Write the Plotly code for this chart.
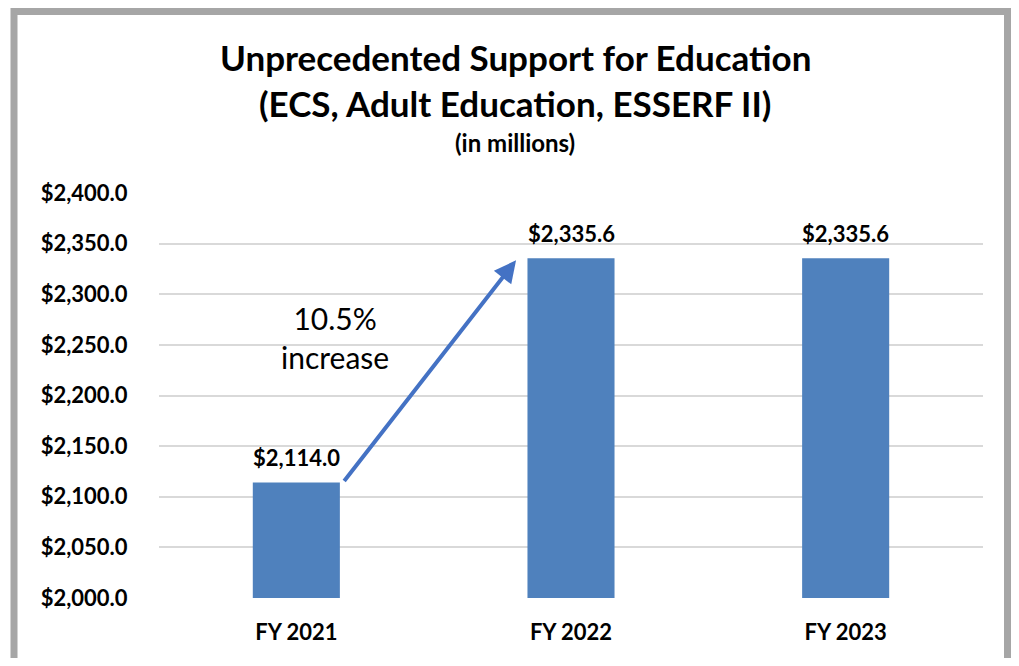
import plotly.graph_objects as go

categories = ['FY 2021', 'FY 2022', 'FY 2023']
values = [2114.0, 2335.6, 2335.6]
y_ticks = [2000, 2050, 2100, 2150, 2200, 2250, 2300, 2350, 2400]
y_tick_labels = [f"${v:,.1f}" for v in y_ticks]

bar_color = '#4F81BD'
arrow_color = '#4472C4'
grid_color = '#D9D9D9'
text_color = '#000000'
font_family = 'Lato, Carlito, Calibri, sans-serif'

# page body has an 8px margin, so the figure starts at (8, 8) in the window
OFF = 8
W, H = 1019 - 2 * OFF, 666 - 2 * OFF
# plot area in window pixels: left 159, right 983, top 193, bottom 598
L, R, T, B = 159 - OFF, 983 - OFF, 193 - OFF, 598 - OFF


def px_x(px):
    return (px - OFF - L) / (R - L)


def px_y(py):
    return (B - (py - OFF)) / (B - T)


fig = go.Figure()

fig.add_trace(
    go.Bar(
        x=categories,
        y=values,
        width=0.317,
        marker={'color': bar_color, 'line': {'width': 0}},
        showlegend=False,
        hoverinfo='x+y',
    )
)

# value labels above the bars
for cat, val in zip(categories, values):
    fig.add_annotation(
        x=cat, y=val,
        text=f"${val:,.1f}",
        showarrow=False,
        yshift=25,
        font={'size': 22, 'color': text_color, 'family': font_family, 'weight': 'bold'},
    )

# arrow from FY2021 bar top to FY2022 bar top
fig.add_annotation(
    x=0.80, y=values[1] - 2,
    ax=0.17, ay=values[0],
    xref='x', yref='y', axref='x', ayref='y',
    text='',
    showarrow=True,
    arrowhead=2,
    arrowsize=1.1,
    arrowwidth=4,
    arrowcolor=arrow_color,
)

pct = (values[1] / values[0] - 1) * 100
fig.add_annotation(
    x=px_x(335), y=px_y(337),
    xref='paper', yref='paper',
    xanchor='center', yanchor='middle',
    text=f"{pct:.1f}%<br>increase",
    showarrow=False,
    align='center',
    font={'size': 30, 'color': text_color, 'family': font_family},
)

# titles
title_lines = [
    ('Unprecedented Support for Education', 57, 35),
    ('(ECS, Adult Education, ESSERF II)', 103, 35),
    ('(in millions)', 143, 24),
]
for txt, ypx, size in title_lines:
    fig.add_annotation(
        x=px_x(515), y=px_y(ypx),
        xref='paper', yref='paper',
        xanchor='center', yanchor='middle',
        text=txt,
        showarrow=False,
        font={'size': size, 'color': text_color, 'family': font_family, 'weight': 'bold'},
    )

# chart frame
fig.add_shape(
    type='rect',
    xref='paper', yref='paper',
    x0=px_x(14), x1=px_x(1007.5), y0=px_y(720), y1=px_y(11.5),
    line={'color': '#A6A6A6', 'width': 7},
    fillcolor='rgba(0,0,0,0)',
    layer='below',
)

fig.update_layout(
    width=W,
    height=H,
    plot_bgcolor='white',
    paper_bgcolor='white',
    margin=dict(l=L, r=W - R, t=T, b=H - B),
    font={'family': font_family, 'color': text_color},
)

fig.update_xaxes(
    showgrid=False,
    showline=False,
    ticks='outside',
    ticklen=15,
    tickcolor='rgba(0,0,0,0)',
    tickfont={'size': 22, 'family': font_family, 'weight': 'bold'},
)

fig.update_yaxes(
    range=[2000, 2400],
    tickvals=y_ticks,
    ticktext=y_tick_labels,
    gridcolor=grid_color,
    gridwidth=2,
    zeroline=False,
    showline=False,
    ticks='outside',
    ticklen=26,
    tickcolor='rgba(0,0,0,0)',
    tickfont={'size': 22, 'family': font_family, 'weight': 'bold'},
)

fig.write_html('out.html')
